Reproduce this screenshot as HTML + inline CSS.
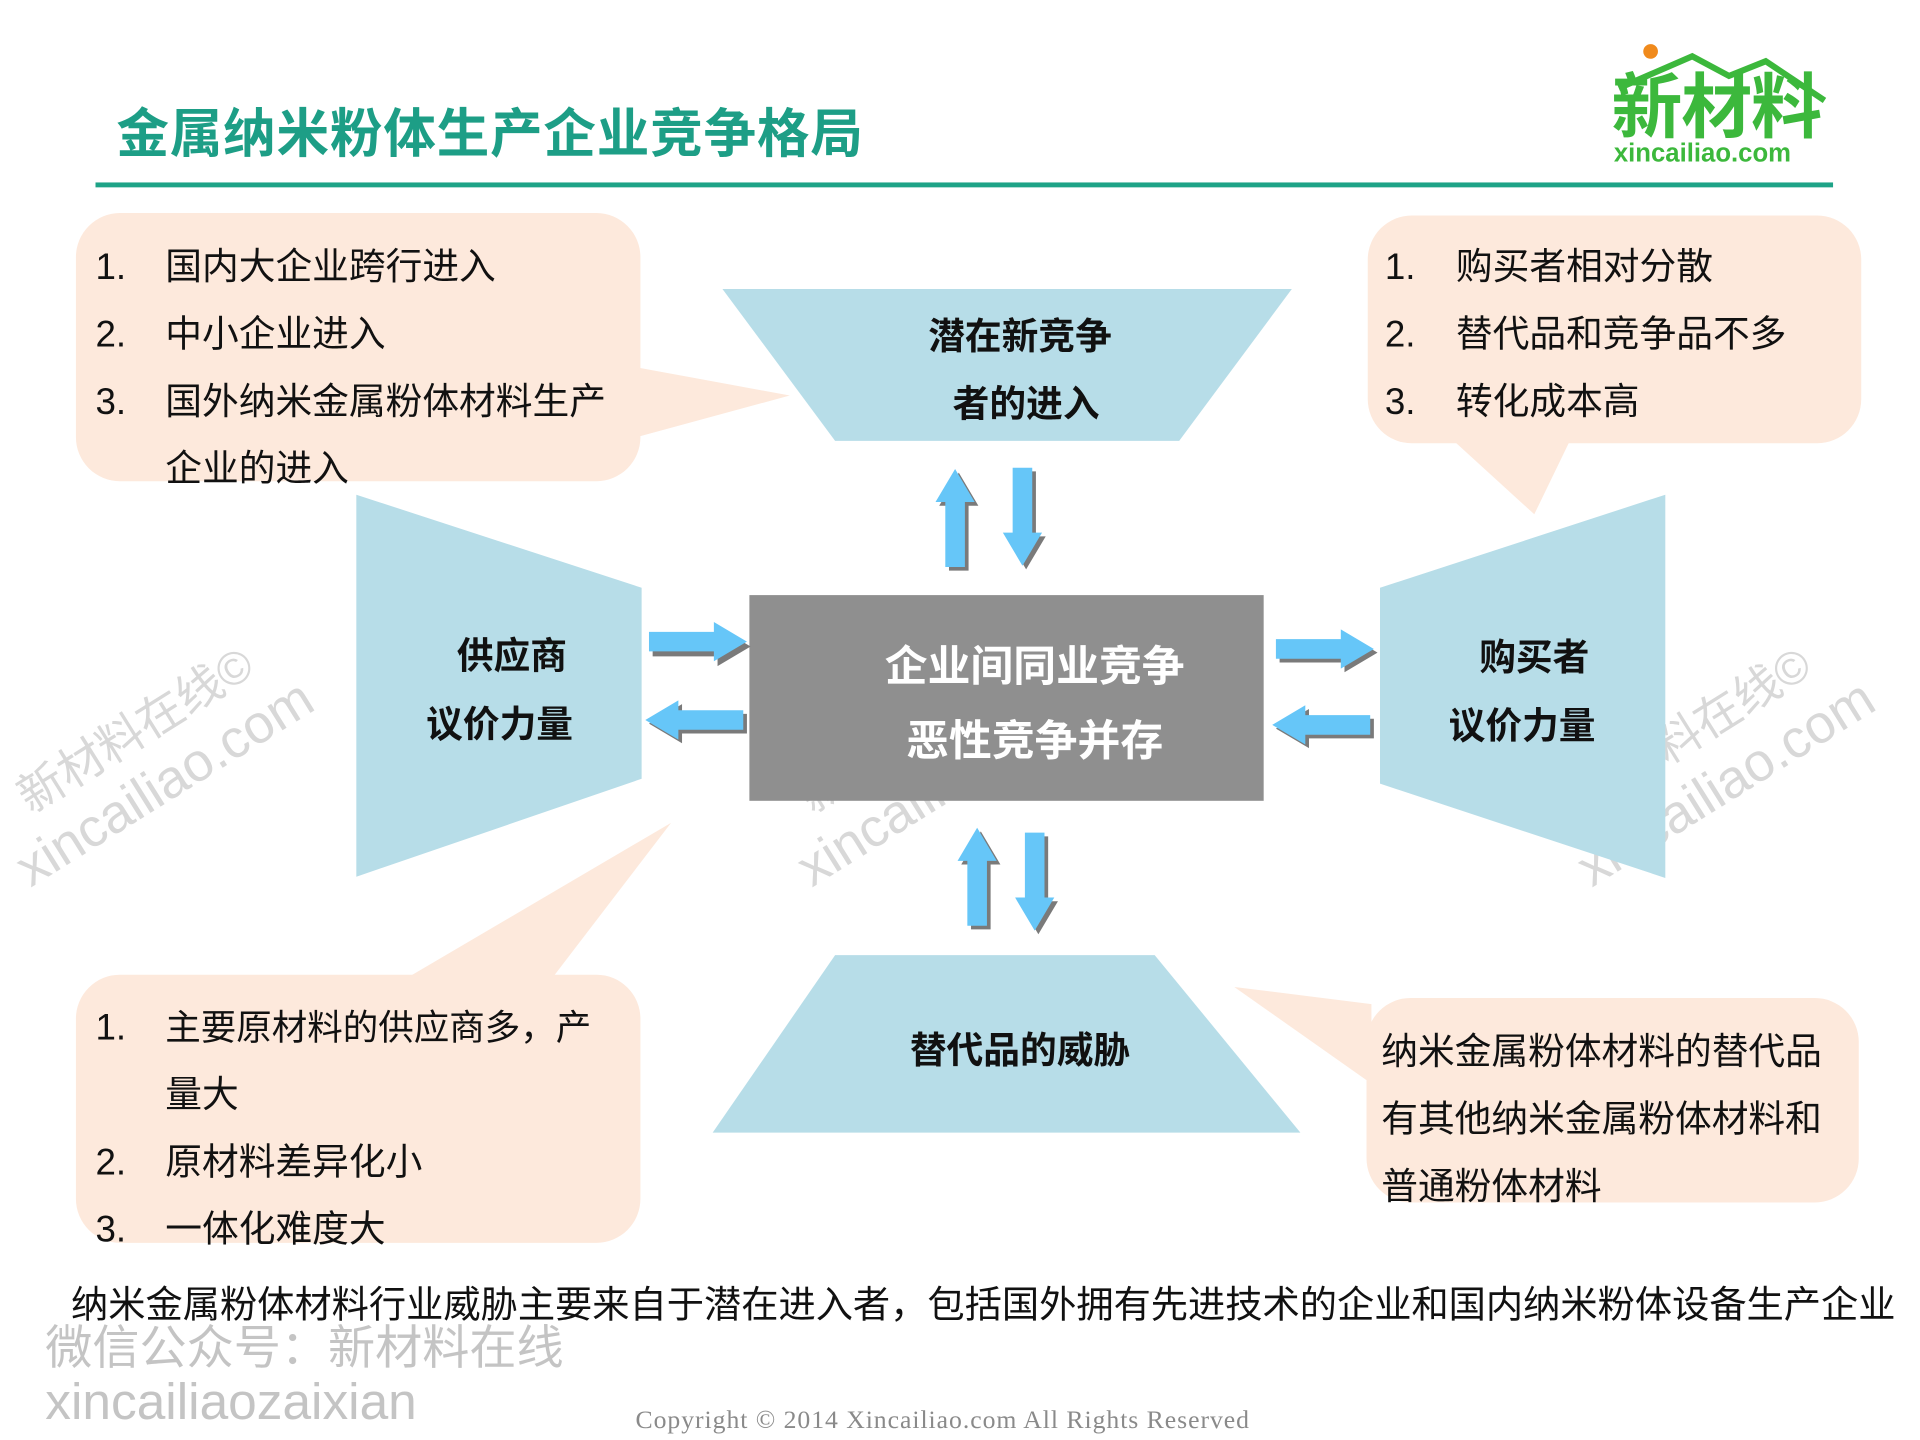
<!DOCTYPE html>
<html><head><meta charset="utf-8"><style>
html,body{margin:0;padding:0;background:#fff;width:1920px;height:1440px;overflow:hidden}
svg{display:block}
text{font-family:"Liberation Sans","Noto Sans CJK SC",sans-serif}
</style></head><body>
<svg width="1920" height="1440" viewBox="0 0 1568 1176" xmlns="http://www.w3.org/2000/svg">
<defs>
<g id="arr">
<polygon points="0,0 16,27 8,27 8,80 -8,80 -8,27 -16,27" />
</g>
</defs>
<!-- title -->
<text x="95" y="124" font-size="43" fill="#1d9e86" font-weight="bold" letter-spacing="0.6">金属纳米粉体生产企业竞争格局</text>
<rect x="78" y="149" width="1419" height="4" fill="#1ea387"/>
<!-- logo -->
<circle cx="1348" cy="42" r="6" fill="#f08a1c"/>
<polyline points="1322,72 1382,46 1412,62 1442,50 1490,82" fill="none" stroke="#3cb83c" stroke-width="5"/>
<text x="1316" y="108" font-size="58" font-weight="bold" fill="#3cb83c" letter-spacing="-1">新材料</text>
<text x="1318" y="132" font-size="21" font-weight="bold" fill="#3cb83c">xincailiao.com</text>

<!-- watermarks -->
<g fill="#d8d8d8" font-size="38">
<text transform="translate(25,665) rotate(-32)">新材料在线©</text>
<text transform="translate(25,725) rotate(-32)" font-size="44">xincailiao.com</text>
<text transform="translate(663,665) rotate(-32)">新材料在线©</text>
<text transform="translate(663,725) rotate(-32)" font-size="44">xincailiao.com</text>
<text transform="translate(1297,665) rotate(-32)">新材料在线©</text>
<text transform="translate(1300,725) rotate(-32)" font-size="44">xincailiao.com</text>
</g>

<!-- callouts -->
<g fill="#fde9dc">
<rect x="62" y="174" width="461" height="219" rx="36"/>
<polygon points="520,300 645,323 520,357"/>
<rect x="1117" y="176" width="403" height="186" rx="36"/>
<polygon points="1185,358 1253,420 1283,358"/>
<rect x="62" y="796" width="461" height="219" rx="36"/>
<polygon points="330,800 548,672 450,800"/>
<rect x="1116" y="815" width="402" height="167" rx="36"/>
<polygon points="1120,820 1008,806 1120,885"/>
</g>
<g font-size="30" fill="#111">
<text x="78" y="228">1.</text><text x="135" y="228">国内大企业跨行进入</text>
<text x="78" y="283">2.</text><text x="135" y="283">中小企业进入</text>
<text x="78" y="338">3.</text><text x="135" y="338">国外纳米金属粉体材料生产</text>
<text x="135" y="393">企业的进入</text>
<text x="1131" y="228">1.</text><text x="1189" y="228">购买者相对分散</text>
<text x="1131" y="283">2.</text><text x="1189" y="283">替代品和竞争品不多</text>
<text x="1131" y="338">3.</text><text x="1189" y="338">转化成本高</text>
<text x="78" y="849">1.</text><text x="135" y="849" font-size="29">主要原材料的供应商多，产</text>
<text x="135" y="904">量大</text>
<text x="78" y="959">2.</text><text x="135" y="959">原材料差异化小</text>
<text x="78" y="1014">3.</text><text x="135" y="1014">一体化难度大</text>
<text x="1128" y="869">纳米金属粉体材料的替代品</text>
<text x="1128" y="924">有其他纳米金属粉体材料和</text>
<text x="1128" y="979">普通粉体材料</text>
</g>

<!-- shapes -->
<g fill="#b7dde8">
<polygon points="590,236 1055,236 963,360 682,360"/>
<polygon points="291,404 524,480 524,636 291,716"/>
<polygon points="1127,480 1360,404 1360,717 1127,640"/>
<polygon points="682,780 943,780 1062,925 582,925"/>
</g>
<g font-size="30" font-weight="bold" fill="#111" text-anchor="middle">
<text x="833" y="285">潜在新竞争</text>
<text x="838" y="340">者的进入</text>
<text x="418" y="546">供应商</text>
<text x="408" y="602">议价力量</text>
<text x="1253" y="547">购买者</text>
<text x="1243" y="603">议价力量</text>
<text x="833" y="868">替代品的威胁</text>
</g>
<rect x="612" y="486" width="420" height="168" fill="#8f8f8f"/>
<g font-size="35" font-weight="bold" fill="#fff" text-anchor="middle">
<text x="845" y="556">企业间同业竞争</text>
<text x="845" y="617">恶性竞争并存</text>
</g>

<!-- arrows -->
<g>
<g fill="#7a7a7a">
<use href="#arr" transform="translate(783,386)"/>
<use href="#arr" transform="translate(838,465) rotate(180)"/>
<use href="#arr" transform="translate(801,679)"/>
<use href="#arr" transform="translate(848,763) rotate(180)"/>
<use href="#arr" transform="translate(613,528) rotate(90)"/>
<use href="#arr" transform="translate(530,591) rotate(-90)"/>
<use href="#arr" transform="translate(1125,533) rotate(90)"/>
<use href="#arr" transform="translate(1042,595) rotate(-90)"/>
</g>
<g fill="#66c6f8">
<use href="#arr" transform="translate(780,383)"/>
<use href="#arr" transform="translate(835,462) rotate(180)"/>
<use href="#arr" transform="translate(798,676)"/>
<use href="#arr" transform="translate(845,760) rotate(180)"/>
<use href="#arr" transform="translate(610,524) rotate(90)"/>
<use href="#arr" transform="translate(527,588) rotate(-90)"/>
<use href="#arr" transform="translate(1122,530) rotate(90)"/>
<use href="#arr" transform="translate(1039,592) rotate(-90)"/>
</g>
</g>

<!-- bottom text -->
<text x="58" y="1076" font-size="30.5" fill="#111" textLength="1490" lengthAdjust="spacingAndGlyphs">纳米金属粉体材料行业威胁主要来自于潜在进入者，包括国外拥有先进技术的企业和国内纳米粉体设备生产企业</text>
<text x="37" y="1114" font-size="38.5" fill="#c4c4c4">微信公众号：新材料在线</text>
<text x="37" y="1159" font-size="42" fill="#c4c4c4">xincailiaozaixian</text>
<text x="519" y="1166" font-size="21" fill="#8a8a8a" style="font-family:'Liberation Serif',serif" textLength="501">Copyright © 2014   Xincailiao.com   All Rights Reserved</text>
</svg>
</body></html>
